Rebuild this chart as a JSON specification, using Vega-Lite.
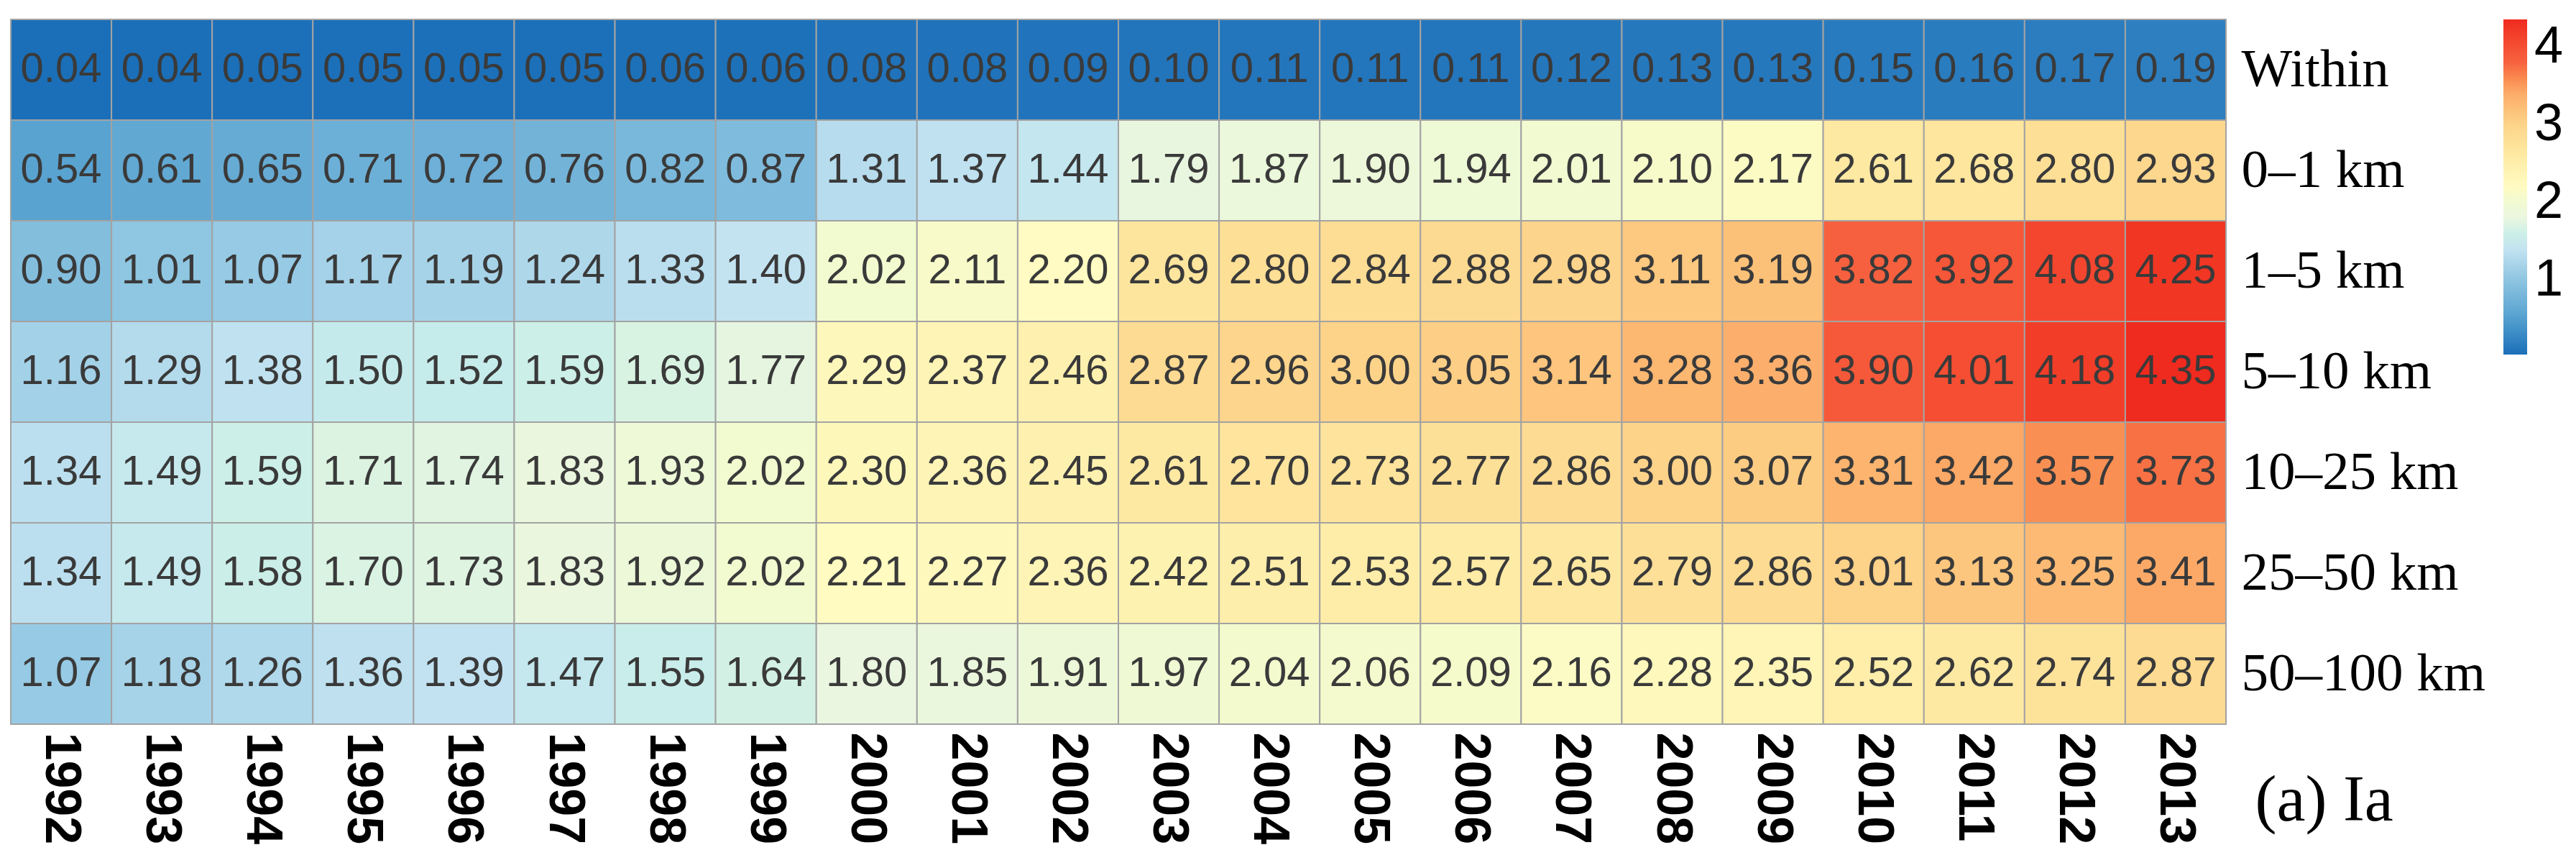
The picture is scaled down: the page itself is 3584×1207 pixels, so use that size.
{
  "$schema": "https://vega.github.io/schema/vega-lite/v6.json",
  "width": 3082,
  "height": 980,
  "autosize": {"type": "none"},
  "padding": {"left": 15, "top": 27, "right": 487, "bottom": 200},
  "background": "white",
  "config": {"view": {"stroke": null}},
  "data": {"values": [
    {"d":"Within","y":"1992","v":0.04},{"d":"Within","y":"1993","v":0.04},{"d":"Within","y":"1994","v":0.05},{"d":"Within","y":"1995","v":0.05},{"d":"Within","y":"1996","v":0.05},{"d":"Within","y":"1997","v":0.05},{"d":"Within","y":"1998","v":0.06},{"d":"Within","y":"1999","v":0.06},{"d":"Within","y":"2000","v":0.08},{"d":"Within","y":"2001","v":0.08},{"d":"Within","y":"2002","v":0.09},{"d":"Within","y":"2003","v":0.10},{"d":"Within","y":"2004","v":0.11},{"d":"Within","y":"2005","v":0.11},{"d":"Within","y":"2006","v":0.11},{"d":"Within","y":"2007","v":0.12},{"d":"Within","y":"2008","v":0.13},{"d":"Within","y":"2009","v":0.13},{"d":"Within","y":"2010","v":0.15},{"d":"Within","y":"2011","v":0.16},{"d":"Within","y":"2012","v":0.17},{"d":"Within","y":"2013","v":0.19},
    {"d":"0–1 km","y":"1992","v":0.54},{"d":"0–1 km","y":"1993","v":0.61},{"d":"0–1 km","y":"1994","v":0.65},{"d":"0–1 km","y":"1995","v":0.71},{"d":"0–1 km","y":"1996","v":0.72},{"d":"0–1 km","y":"1997","v":0.76},{"d":"0–1 km","y":"1998","v":0.82},{"d":"0–1 km","y":"1999","v":0.87},{"d":"0–1 km","y":"2000","v":1.31},{"d":"0–1 km","y":"2001","v":1.37},{"d":"0–1 km","y":"2002","v":1.44},{"d":"0–1 km","y":"2003","v":1.79},{"d":"0–1 km","y":"2004","v":1.87},{"d":"0–1 km","y":"2005","v":1.90},{"d":"0–1 km","y":"2006","v":1.94},{"d":"0–1 km","y":"2007","v":2.01},{"d":"0–1 km","y":"2008","v":2.10},{"d":"0–1 km","y":"2009","v":2.17},{"d":"0–1 km","y":"2010","v":2.61},{"d":"0–1 km","y":"2011","v":2.68},{"d":"0–1 km","y":"2012","v":2.80},{"d":"0–1 km","y":"2013","v":2.93},
    {"d":"1–5 km","y":"1992","v":0.90},{"d":"1–5 km","y":"1993","v":1.01},{"d":"1–5 km","y":"1994","v":1.07},{"d":"1–5 km","y":"1995","v":1.17},{"d":"1–5 km","y":"1996","v":1.19},{"d":"1–5 km","y":"1997","v":1.24},{"d":"1–5 km","y":"1998","v":1.33},{"d":"1–5 km","y":"1999","v":1.40},{"d":"1–5 km","y":"2000","v":2.02},{"d":"1–5 km","y":"2001","v":2.11},{"d":"1–5 km","y":"2002","v":2.20},{"d":"1–5 km","y":"2003","v":2.69},{"d":"1–5 km","y":"2004","v":2.80},{"d":"1–5 km","y":"2005","v":2.84},{"d":"1–5 km","y":"2006","v":2.88},{"d":"1–5 km","y":"2007","v":2.98},{"d":"1–5 km","y":"2008","v":3.11},{"d":"1–5 km","y":"2009","v":3.19},{"d":"1–5 km","y":"2010","v":3.82},{"d":"1–5 km","y":"2011","v":3.92},{"d":"1–5 km","y":"2012","v":4.08},{"d":"1–5 km","y":"2013","v":4.25},
    {"d":"5–10 km","y":"1992","v":1.16},{"d":"5–10 km","y":"1993","v":1.29},{"d":"5–10 km","y":"1994","v":1.38},{"d":"5–10 km","y":"1995","v":1.50},{"d":"5–10 km","y":"1996","v":1.52},{"d":"5–10 km","y":"1997","v":1.59},{"d":"5–10 km","y":"1998","v":1.69},{"d":"5–10 km","y":"1999","v":1.77},{"d":"5–10 km","y":"2000","v":2.29},{"d":"5–10 km","y":"2001","v":2.37},{"d":"5–10 km","y":"2002","v":2.46},{"d":"5–10 km","y":"2003","v":2.87},{"d":"5–10 km","y":"2004","v":2.96},{"d":"5–10 km","y":"2005","v":3.00},{"d":"5–10 km","y":"2006","v":3.05},{"d":"5–10 km","y":"2007","v":3.14},{"d":"5–10 km","y":"2008","v":3.28},{"d":"5–10 km","y":"2009","v":3.36},{"d":"5–10 km","y":"2010","v":3.90},{"d":"5–10 km","y":"2011","v":4.01},{"d":"5–10 km","y":"2012","v":4.18},{"d":"5–10 km","y":"2013","v":4.35},
    {"d":"10–25 km","y":"1992","v":1.34},{"d":"10–25 km","y":"1993","v":1.49},{"d":"10–25 km","y":"1994","v":1.59},{"d":"10–25 km","y":"1995","v":1.71},{"d":"10–25 km","y":"1996","v":1.74},{"d":"10–25 km","y":"1997","v":1.83},{"d":"10–25 km","y":"1998","v":1.93},{"d":"10–25 km","y":"1999","v":2.02},{"d":"10–25 km","y":"2000","v":2.30},{"d":"10–25 km","y":"2001","v":2.36},{"d":"10–25 km","y":"2002","v":2.45},{"d":"10–25 km","y":"2003","v":2.61},{"d":"10–25 km","y":"2004","v":2.70},{"d":"10–25 km","y":"2005","v":2.73},{"d":"10–25 km","y":"2006","v":2.77},{"d":"10–25 km","y":"2007","v":2.86},{"d":"10–25 km","y":"2008","v":3.00},{"d":"10–25 km","y":"2009","v":3.07},{"d":"10–25 km","y":"2010","v":3.31},{"d":"10–25 km","y":"2011","v":3.42},{"d":"10–25 km","y":"2012","v":3.57},{"d":"10–25 km","y":"2013","v":3.73},
    {"d":"25–50 km","y":"1992","v":1.34},{"d":"25–50 km","y":"1993","v":1.49},{"d":"25–50 km","y":"1994","v":1.58},{"d":"25–50 km","y":"1995","v":1.70},{"d":"25–50 km","y":"1996","v":1.73},{"d":"25–50 km","y":"1997","v":1.83},{"d":"25–50 km","y":"1998","v":1.92},{"d":"25–50 km","y":"1999","v":2.02},{"d":"25–50 km","y":"2000","v":2.21},{"d":"25–50 km","y":"2001","v":2.27},{"d":"25–50 km","y":"2002","v":2.36},{"d":"25–50 km","y":"2003","v":2.42},{"d":"25–50 km","y":"2004","v":2.51},{"d":"25–50 km","y":"2005","v":2.53},{"d":"25–50 km","y":"2006","v":2.57},{"d":"25–50 km","y":"2007","v":2.65},{"d":"25–50 km","y":"2008","v":2.79},{"d":"25–50 km","y":"2009","v":2.86},{"d":"25–50 km","y":"2010","v":3.01},{"d":"25–50 km","y":"2011","v":3.13},{"d":"25–50 km","y":"2012","v":3.25},{"d":"25–50 km","y":"2013","v":3.41},
    {"d":"50–100 km","y":"1992","v":1.07},{"d":"50–100 km","y":"1993","v":1.18},{"d":"50–100 km","y":"1994","v":1.26},{"d":"50–100 km","y":"1995","v":1.36},{"d":"50–100 km","y":"1996","v":1.39},{"d":"50–100 km","y":"1997","v":1.47},{"d":"50–100 km","y":"1998","v":1.55},{"d":"50–100 km","y":"1999","v":1.64},{"d":"50–100 km","y":"2000","v":1.80},{"d":"50–100 km","y":"2001","v":1.85},{"d":"50–100 km","y":"2002","v":1.91},{"d":"50–100 km","y":"2003","v":1.97},{"d":"50–100 km","y":"2004","v":2.04},{"d":"50–100 km","y":"2005","v":2.06},{"d":"50–100 km","y":"2006","v":2.09},{"d":"50–100 km","y":"2007","v":2.16},{"d":"50–100 km","y":"2008","v":2.28},{"d":"50–100 km","y":"2009","v":2.35},{"d":"50–100 km","y":"2010","v":2.52},{"d":"50–100 km","y":"2011","v":2.62},{"d":"50–100 km","y":"2012","v":2.74},{"d":"50–100 km","y":"2013","v":2.87}
  ]},
  "encoding": {
    "x": {
      "field": "y", "type": "ordinal",
      "scale": {"paddingInner": 0, "paddingOuter": 0},
      "axis": {
        "orient": "bottom", "domain": false, "ticks": false,
        "labelAngle": 90, "labelAlign": "left", "labelBaseline": "middle",
        "labelFont": "Liberation Sans", "labelFontSize": 70, "labelFontWeight": "bold",
        "labelColor": "#000000", "labelPadding": 11,
        "title": "(a) Ia", "titleFont": "Liberation Serif", "titleFontSize": 90,
        "titleFontWeight": "normal", "titleColor": "#000000",
        "titleAngle": 0, "titleAlign": "left", "titleBaseline": "middle",
        "titleX": 3122, "titleY": 106
      }
    },
    "y": {
      "field": "d", "type": "ordinal",
      "sort": ["Within","0–1 km","1–5 km","5–10 km","10–25 km","25–50 km","50–100 km"],
      "scale": {"paddingInner": 0, "paddingOuter": 0},
      "axis": {
        "orient": "right", "domain": false, "ticks": false, "title": null,
        "labelFont": "Liberation Serif", "labelFontSize": 75, "labelColor": "#000000",
        "labelPadding": 21, "labelAlign": "left", "labelBaseline": "middle",
        "labelLimit": 0
      }
    }
  },
  "layer": [
    {
      "mark": {"type": "rect", "stroke": "#a3a3a3", "strokeWidth": 2},
      "encoding": {
        "color": {
          "field": "v", "type": "quantitative",
          "scale": {
            "domain": [0.04, 0.55, 1.0, 1.4, 1.8, 2.2, 2.6, 3.0, 3.4, 3.8, 4.1, 4.35],
            "range": ["#1b6fb8", "#5aa4d1", "#8ec5e1", "#c3e3f1", "#eaf6e0", "#fffbc2", "#feeaa4", "#fdd38a", "#fcab69", "#f7623f", "#f4442d", "#ef2a1e"]
          },
          "legend": {
            "orient": "none", "legendX": 3468, "legendY": 0,
            "title": null, "direction": "vertical",
            "gradientLength": 466, "gradientThickness": 33, "gradientStrokeWidth": 0,
            "values": [1, 2, 3, 4], "format": "d",
            "labelFont": "Liberation Sans", "labelFontSize": 72, "labelColor": "#000000",
            "labelOffset": 10, "labelLimit": 0, "padding": 0
          }
        }
      }
    },
    {
      "mark": {"type": "text", "font": "Liberation Sans", "fontSize": 58, "color": "#3a3a3a", "baseline": "middle", "align": "center"},
      "encoding": {
        "text": {"field": "v", "type": "quantitative", "format": ".2f"}
      }
    }
  ]
}
